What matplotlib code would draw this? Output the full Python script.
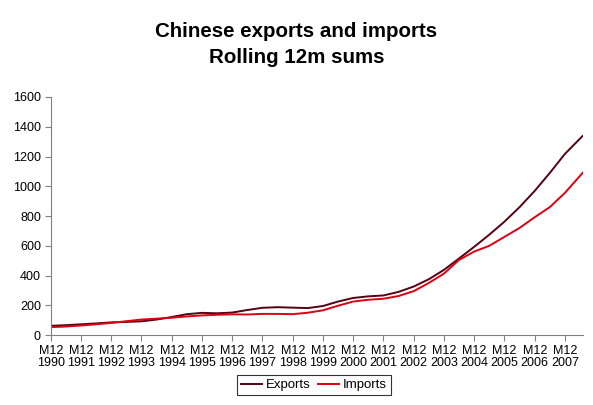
import numpy as np
import matplotlib.pyplot as plt

plt.rcParams['font.family'] = ['Liberation Sans', 'DejaVu Sans']

# semi-annual readings, month index 0 = M12 1990
months = [0, 6, 12, 18, 24, 30, 36, 42, 48, 54, 60, 66, 72, 78, 84, 90, 96, 102,
          108, 114, 120, 126, 132, 138, 144, 150, 156, 162, 168, 174, 180, 186,
          192, 198, 204, 211]
exports = [62, 66, 72, 78, 85, 88, 92, 104, 121, 140, 149, 146, 151, 168, 183, 187, 184, 181,
           195, 225, 249, 260, 266, 290, 326, 375, 438, 515, 593, 675, 762, 860,
           969, 1090, 1218, 1338]
imports = [53, 57, 64, 72, 81, 93, 104, 110, 116, 125, 132, 136, 139, 138, 142, 142, 140, 150,
           166, 197, 225, 237, 244, 262, 295, 350, 413, 505, 561, 600, 660, 720,
           792, 860, 956, 1090]

tick_labels = [f"M12\n{y}" for y in range(1990, 2008)]
tick_pos = [12 * i for i in range(len(tick_labels))]

W, H = 593, 405
fig = plt.figure(figsize=(W / 100, H / 100), dpi=100)
ax = fig.add_axes([0.0855, 0.1728, 0.897, 0.5877])

ax.plot(months, exports, color='#560012', lw=1.4, label='Exports')
ax.plot(months, imports, color='#dc0010', lw=1.4, label='Imports')

ax.set_xlim(0, 211)
ax.set_ylim(0, 1600)
ax.set_yticks(range(0, 1601, 200))
ax.set_xticks(tick_pos)
ax.set_xticklabels(tick_labels, family=['Liberation Sans Narrow', 'Liberation Sans'],
                   fontsize=9, linespacing=1.0)

for s in ['top', 'right']:
    ax.spines[s].set_visible(False)
for s in ['left', 'bottom']:
    ax.spines[s].set_color('#808080')
ax.tick_params(axis='both', colors='#808080', labelcolor='black', length=4)
ax.tick_params(axis='y', labelsize=9, pad=3)
ax.tick_params(axis='x', pad=3)

fig.text(0.5, 1 - 36.7 / H, "Chinese exports and imports", ha='center', va='baseline',
         fontsize=14.8, fontweight='bold')
fig.text(0.5, 1 - 63.3 / H, "Rolling 12m sums", ha='center', va='baseline',
         fontsize=14.8, fontweight='bold')

leg = fig.legend(loc='center', bbox_to_anchor=(314 / W, 1 - 385 / H), ncol=2,
                 fontsize=9.5, frameon=True, fancybox=False, handlelength=1.6,
                 handletextpad=0.3, columnspacing=0.5, borderpad=0.3, borderaxespad=0)
leg.get_frame().set_edgecolor('black')
leg.get_frame().set_linewidth(0.8)

fig.savefig("out.png", dpi=100)
